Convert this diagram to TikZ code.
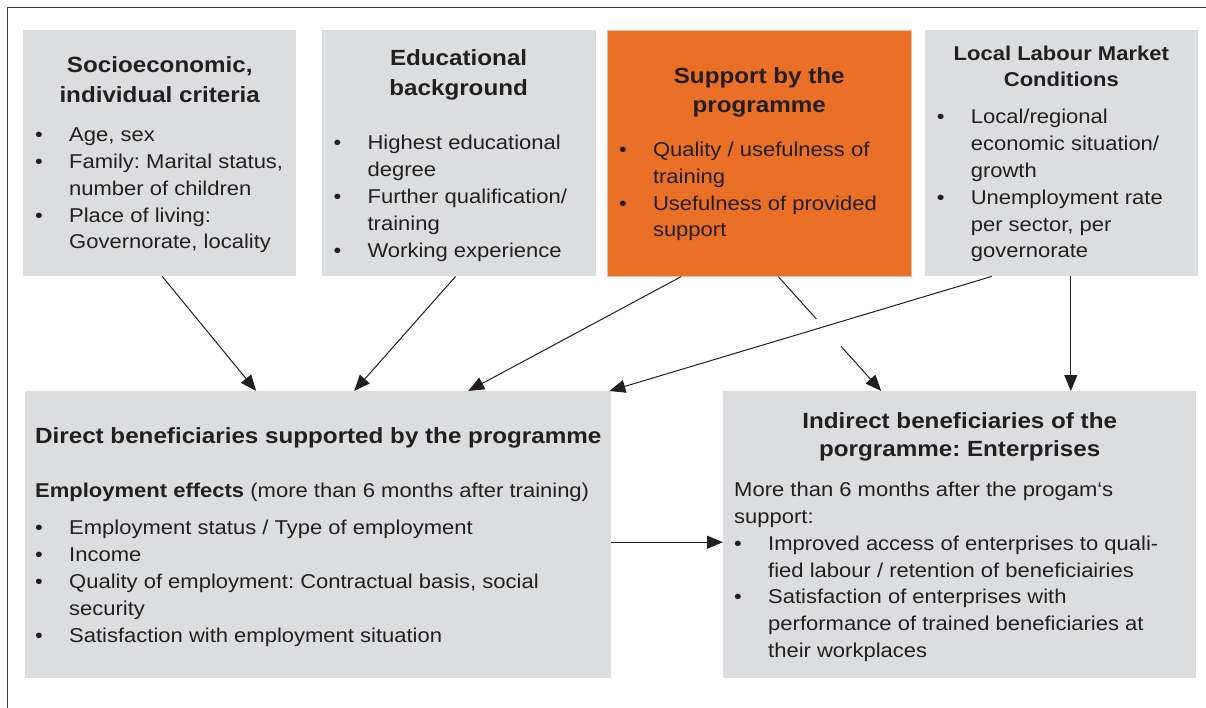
\documentclass[tikz,border=0pt]{standalone}
\usepackage{fontspec}
\setmainfont{Liberation Sans}[FakeStretch=1.1]
\usepackage{tikz}
\usetikzlibrary{positioning,arrows.meta,calc}
\definecolor{panelgray}{HTML}{DCDDDF}
\definecolor{progorange}{HTML}{E97026}
\definecolor{ink}{HTML}{231F20}
\definecolor{framegray}{HTML}{3A3A3A}
\frenchspacing
\newcommand{\headfont}{\fontsize{22}{29.5}\selectfont\bfseries}
\newcommand{\itemfont}{\fontsize{20}{26.8}\selectfont}
\newcommand{\blt}{\makebox[34pt][l]{\textbullet}}
\newcommand{\heading}[1]{\begin{tabular}[t]{@{}c@{}}#1\end{tabular}}
\newcommand{\itemlist}[1]{\begin{tabular}[t]{@{}l@{}l@{}}#1\end{tabular}}
\newcommand{\wide}[1]{\multicolumn{2}{@{}l@{}}{#1}}
\tikzset{
    panel/.style={fill=panelgray,inner sep=0pt,anchor=north west},
    orangepanel/.style={panel,fill=progorange,draw=progorange!45!white,line width=0.8pt},
    head/.style={inner sep=0pt,anchor=base,text=ink,font=\headfont},
    bullets/.style={inner sep=0pt,anchor=base west,text=ink,font=\itemfont},
    link/.style={draw=ink,line width=1pt,-{Triangle[length=16pt,width=13pt]}},
}

\begin{document}
\begin{tikzpicture}[x=1pt,y=-1pt]
    \useasboundingbox (0,0) rectangle (1206,708);
    \draw[framegray,line width=1.3pt] (7.5,708) -- (7.5,7.5) -- (1206,7.5);

    % influencing factors
    \node[panel,minimum width=273pt,minimum height=246pt] (socio) at (23,30) {};
    \node[panel,minimum width=274pt,minimum height=246pt,right=25pt of socio] (edu) {};
    \node[orangepanel,minimum width=304pt,minimum height=246pt,right=11pt of edu] (supp) {};
    \node[panel,minimum width=273pt,minimum height=246pt,right=13pt of supp] (local) {};

    % beneficiaries
    \node[panel,minimum width=586pt,minimum height=287pt] (direct) at (25,391) {};
    \node[panel,minimum width=473pt,minimum height=287pt] (indirect) at (723,391) {};

    \node[head] (sociohead) at ([yshift=-42.7pt]socio.north)
        {\heading{Socioeconomic,\\individual criteria}};
    \node[bullets] (sociolist) at ([xshift=12pt,yshift=-111.7pt]socio.north west)
        {\itemlist{\blt & Age, sex\\ \blt & Family: Marital status,\\ & number of children\\
        \blt & Place of living:\\ & Governorate, locality}};

    \node[head] (eduhead) at ([yshift=-36pt]edu.north)
        {\heading{Educational\\background}};
    \node[bullets] (edulist) at ([xshift=12pt,yshift=-120pt]edu.north west)
        {\itemlist{\blt & Highest educational\\ & degree\\ \blt & Further qualification/\\
        & training\\ \blt & Working experience}};

    \node[head] (supphead) at ([yshift=-53.3pt]supp.north)
        {\heading{Support by the\\programme}};
    \node[bullets] (supplist) at ([xshift=12pt,yshift=-126.7pt]supp.north west)
        {\itemlist{\blt & Quality / usefulness of\\ & training\\ \blt & Usefulness of provided\\
        & support}};

    \node[head,font=\fontsize{20}{25.7}\selectfont\bfseries] (localhead) at ([yshift=-31pt]local.north)
        {\heading{Local Labour Market\\Conditions}};
    \node[bullets] (locallist) at ([xshift=12pt,yshift=-94pt]local.north west)
        {\itemlist{\blt & Local/regional\\ & economic situation/\\ & growth\\
        \blt & Unemployment rate\\ & per sector, per\\ & governorate}};

    \node[bullets] (directlist) at ([xshift=10pt,yshift=-52.3pt]direct.north west)
        {\itemlist{\wide{\fontsize{22}{26.8}\selectfont\bfseries Direct beneficiaries supported by the programme}\\[27pt]
        \wide{\textbf{Employment effects} (more than 6 months after training)}\\[10.9pt]
        \blt & Employment status / Type of employment\\ \blt & Income\\
        \blt & Quality of employment: Contractual basis, social\\ & security\\
        \blt & Satisfaction with employment situation}};

    \node[head,font=\fontsize{22}{28.4}\selectfont\bfseries] (indirecthead) at ([yshift=-37.3pt]indirect.north)
        {\heading{Indirect beneficiaries of the\\porgramme: Enterprises}};
    \node[bullets] (indirectlist) at ([xshift=11pt,yshift=-105.7pt]indirect.north west)
        {\itemlist{\wide{More than 6 months after the progam‘s}\\ \wide{support:}\\
        \blt & Improved access of enterprises to quali-\\ & fied labour / retention of beneficiairies\\
        \blt & Satisfaction of enterprises with\\ & performance of trained beneficiaries at\\
        & their workplaces}};

    \draw[link] ([xshift=2.5pt]socio.south) -- ([xshift=-62pt]direct.north);
    \draw[link] ([xshift=-3pt]edu.south) -- ([xshift=36pt]direct.north);
    \draw[link] ([xshift=-78pt]supp.south) -- ([xshift=150pt]direct.north);
    \draw[link] ([xshift=-69.5pt]local.south) -- ([xshift=-2pt]direct.north east);

    % this one jumps over the line coming from local
    \coordinate (jumpfrom) at ([xshift=19pt]supp.south);
    \coordinate (jumpto) at ([xshift=-78.5pt]indirect.north);
    \draw[ink,line width=1pt] (jumpfrom) -- ($(jumpfrom)!0.37!(jumpto)$);
    \draw[link] ($(jumpfrom)!0.61!(jumpto)$) -- (jumpto);

    \draw[link] ([xshift=9.5pt]local.south) -- ([xshift=9.5pt]local.south |- indirect.north);
    \draw[link] ([yshift=-7.5pt]direct.east) -- ([yshift=-7.5pt]indirect.west);
\end{tikzpicture}
\end{document}
